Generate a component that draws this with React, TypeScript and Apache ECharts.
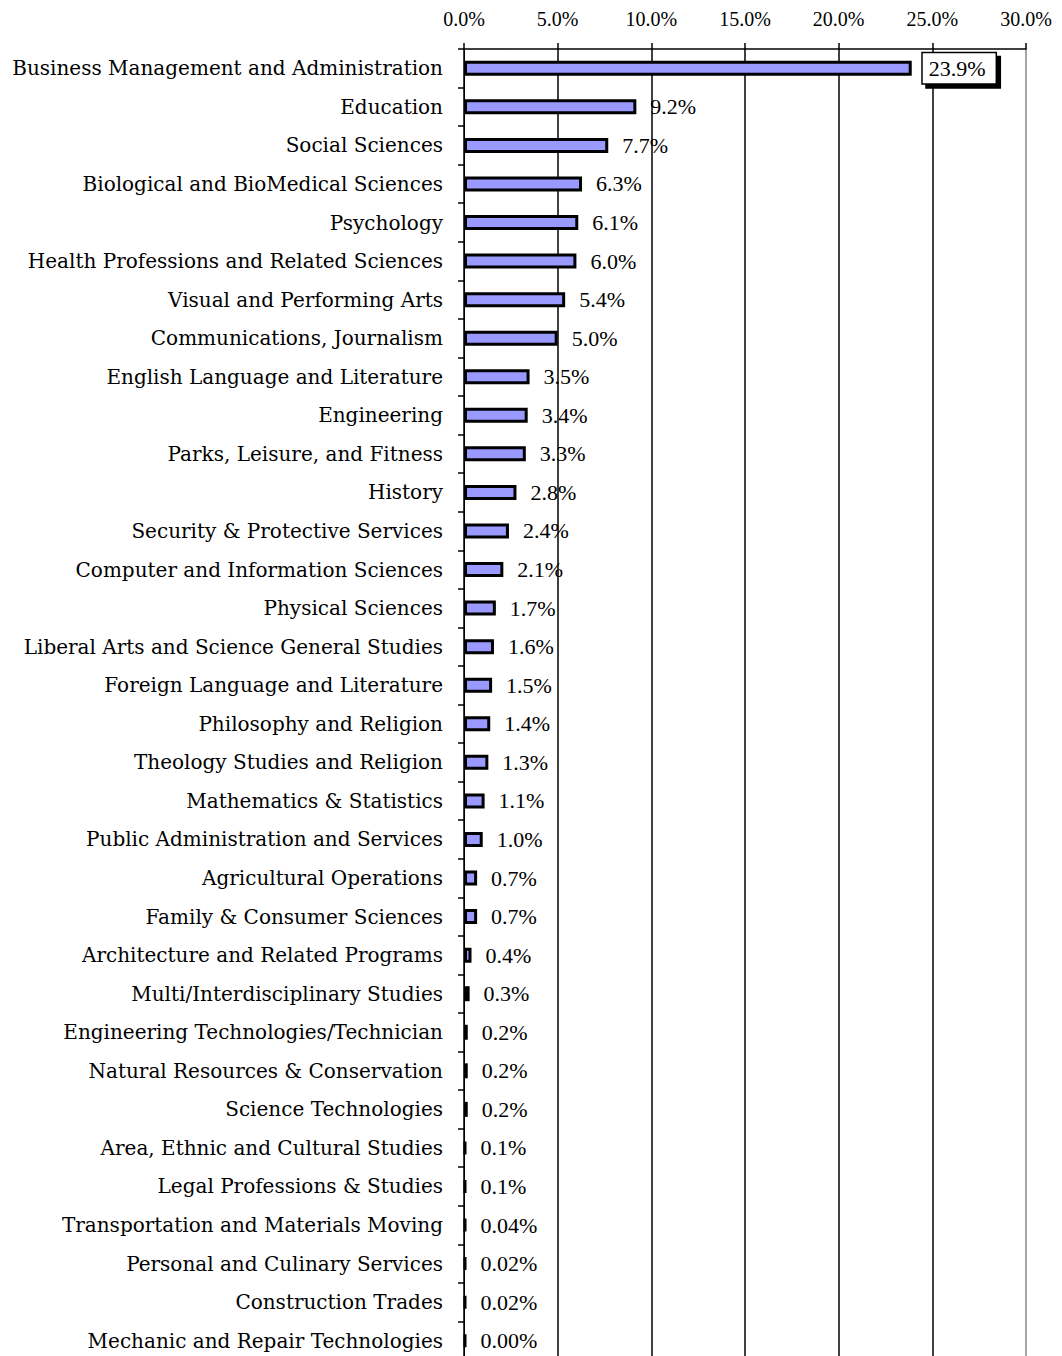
import React, { useEffect, useRef } from "react";
import * as echarts from "echarts";

const categories = [
  "Business Management and Administration",
  "Education",
  "Social Sciences",
  "Biological and BioMedical Sciences",
  "Psychology",
  "Health Professions and Related Sciences",
  "Visual and Performing Arts",
  "Communications, Journalism",
  "English Language and Literature",
  "Engineering",
  "Parks, Leisure, and Fitness",
  "History",
  "Security & Protective Services",
  "Computer and Information Sciences",
  "Physical Sciences",
  "Liberal Arts and Science General Studies",
  "Foreign Language and Literature",
  "Philosophy and Religion",
  "Theology Studies and Religion",
  "Mathematics & Statistics",
  "Public Administration and Services",
  "Agricultural Operations",
  "Family & Consumer Sciences",
  "Architecture and Related Programs",
  "Multi/Interdisciplinary Studies",
  "Engineering Technologies/Technician",
  "Natural Resources & Conservation",
  "Science Technologies",
  "Area, Ethnic and Cultural Studies",
  "Legal Professions & Studies",
  "Transportation and Materials Moving",
  "Personal and Culinary Services",
  "Construction Trades",
  "Mechanic and Repair Technologies",
];

const values = [
  23.9, 9.2, 7.7, 6.3, 6.1, 6.0, 5.4, 5.0, 3.5, 3.4, 3.3, 2.8, 2.4, 2.1, 1.7,
  1.6, 1.5, 1.4, 1.3, 1.1, 1.0, 0.7, 0.7, 0.4, 0.3, 0.2, 0.2, 0.2, 0.1, 0.1,
  0.04, 0.02, 0.02, 0.0,
];

const valueLabels = [
  "23.9%", "9.2%", "7.7%", "6.3%", "6.1%", "6.0%", "5.4%", "5.0%", "3.5%",
  "3.4%", "3.3%", "2.8%", "2.4%", "2.1%", "1.7%", "1.6%", "1.5%", "1.4%",
  "1.3%", "1.1%", "1.0%", "0.7%", "0.7%", "0.4%", "0.3%", "0.2%", "0.2%",
  "0.2%", "0.1%", "0.1%", "0.04%", "0.02%", "0.02%", "0.00%",
];

const axisMin = 0;
const axisMax = 30;
const axisStep = 5;

export default function App() {
  const ref = useRef<HTMLDivElement>(null);
  useEffect(() => {
    if (!ref.current) return;
    const chart = echarts.init(ref.current, undefined, { renderer: "svg" });
    const data = values.map((v, i) => {
      const item: any = { value: v };
      if (i === 0) {
        item.label = {
          backgroundColor: "#fff",
          borderColor: "#000",
          borderWidth: 1.5,
          padding: [5, 10, 3, 6],
          shadowColor: "#000",
          shadowOffsetX: 4,
          shadowOffsetY: 4,
          shadowBlur: 0,
          distance: 11,
        };
      }
      return item;
    });
    chart.setOption({
      animation: false,
      backgroundColor: "#fff",
      grid: { left: 464, right: 36, top: 49, bottom: 0, containLabel: false },
      xAxis: {
        type: "value",
        position: "top",
        min: axisMin,
        max: axisMax,
        interval: axisStep,
        axisLine: { show: true, lineStyle: { color: "#000", width: 1.5 } },
        axisTick: { show: true, length: 6, lineStyle: { color: "#000", width: 1.5 } },
        axisLabel: {
          margin: 20,
          color: "#000",
          fontFamily: "Liberation Serif",
          fontSize: 20,
          formatter: (v: number) => v.toFixed(1) + "%",
        },
        splitLine: {
          show: true,
          lineStyle: {
            color: ["#000", "#000", "#000", "#000", "#000", "#000", "#888"],
            width: 1.5,
          },
        },
      },
      yAxis: {
        type: "category",
        inverse: true,
        data: categories,
        axisLine: { show: true, lineStyle: { color: "#000", width: 1 } },
        axisTick: { show: true, length: 6, lineStyle: { color: "#000", width: 1.5 } },
        axisLabel: {
          margin: 21,
          color: "#000",
          fontFamily: "DejaVu Serif",
          fontSize: 20,
        },
      },
      series: [
        {
          type: "bar",
          data,
          barWidth: 15,
          barMinHeight: 2,
          itemStyle: { color: "#9999ff", borderColor: "#000", borderWidth: 3 },
          label: {
            show: true,
            position: "right",
            distance: 14,
            color: "#000",
            fontFamily: "Liberation Serif",
            fontSize: 22,
            formatter: (p: any) => valueLabels[p.dataIndex],
          },
        },
      ],
    });
    return () => chart.dispose();
  }, []);
  return (
    <div
      ref={ref}
      style={{ position: "absolute", left: 0, top: 0, width: 1062, height: 1360 }}
    />
  );
}
